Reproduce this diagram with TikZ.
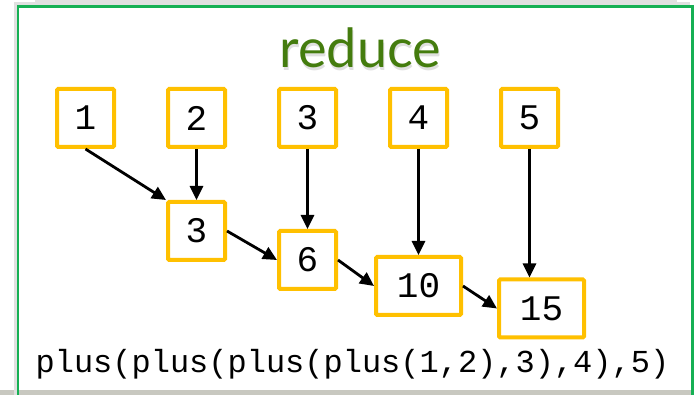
\documentclass[tikz,border=0pt]{standalone}
\usepackage{fontspec}
\setmonofont{Liberation Mono}
\newfontfamily\titlefont{Lato}
\usetikzlibrary{arrows.meta}

\definecolor{frameGreen}{RGB}{22,176,84}
\definecolor{titleGreen}{RGB}{68,124,14}
\definecolor{boxGold}{RGB}{255,192,0}
\definecolor{barGray}{RGB}{200,200,192}

\tikzset{
  valbox/.style={draw=boxGold, line width=4pt, rounded corners=1.2pt, fill=white,
    minimum width=57pt, minimum height=58pt, inner sep=0pt,
    font=\ttfamily\fontsize{36}{40}\selectfont},
  widebox/.style={valbox, minimum width=85pt},
  flow/.style={draw=black, line width=2.8pt,
    -{Triangle[length=14pt,width=13pt]}},
  titletext/.style={anchor=base, font=\titlefont\fontsize{54}{60}\selectfont},
}

\begin{document}
\begin{tikzpicture}[x=1pt,y=-1pt]
  \useasboundingbox (0,0) rectangle (694,395);
  \fill[white] (0,0) rectangle (694,395);

  % soft shadow of the panel above and the bar below
  \fill[black!12] (35,0) rectangle (677,3.5);
  \fill[barGray] (0,390.5) rectangle (694,395);

  % panel frame with its faint shadow
  \draw[black!12, line width=3pt] (15.5,400) -- (15.5,4) -- (690,4);
  \draw[frameGreen, line width=2.5pt] (18,400) -- (18,6.5) -- (692.5,6.5) -- (692.5,400);

  % title with a soft drop shadow
  \node[titletext, text=black, opacity=0.12] (titleshadow) at (361.5,70.5) {reduce};
  \node[titletext, text=titleGreen] (title) at (360.5,68) {reduce};

  % input values
  \node[valbox] (a1) at (85.5,118)  {1};
  \node[valbox] (a2) at (196.5,118) {2};
  \node[valbox] (a3) at (307.5,118) {3};
  \node[valbox] (a4) at (418.5,118) {4};
  \node[valbox] (a5) at (529.5,118) {5};

  % running sums
  \node[valbox]  (s1) at (196.5,231)   {3};
  \node[valbox]  (s2) at (307.5,260)   {6};
  \node[widebox] (s3) at (418.5,286)   {10};
  \node[widebox] (s4) at (541.5,308.5) {15};

  % combining steps
  \draw[flow] (a1.south) -- (s1.north west);
  \draw[flow] (a2.south) -- (s1.north);
  \draw[flow] (s1.east) -- (s2.west);
  \draw[flow] (a3.south) -- (s2.north);
  \draw[flow] (s2.east) -- (s3.west);
  \draw[flow] (a4.south) -- (s3.north);
  \draw[flow] (s3.east) -- (s4.west);
  \draw[flow] (a5.south) -- (a5.south |- s4.north);

  % the equivalent nested call
  \node[anchor=base, font=\ttfamily\fontsize{32}{36}\selectfont]
    (expr) at (352.5,373) {plus(plus(plus(plus(1,2),3),4),5)};
\end{tikzpicture}
\end{document}
